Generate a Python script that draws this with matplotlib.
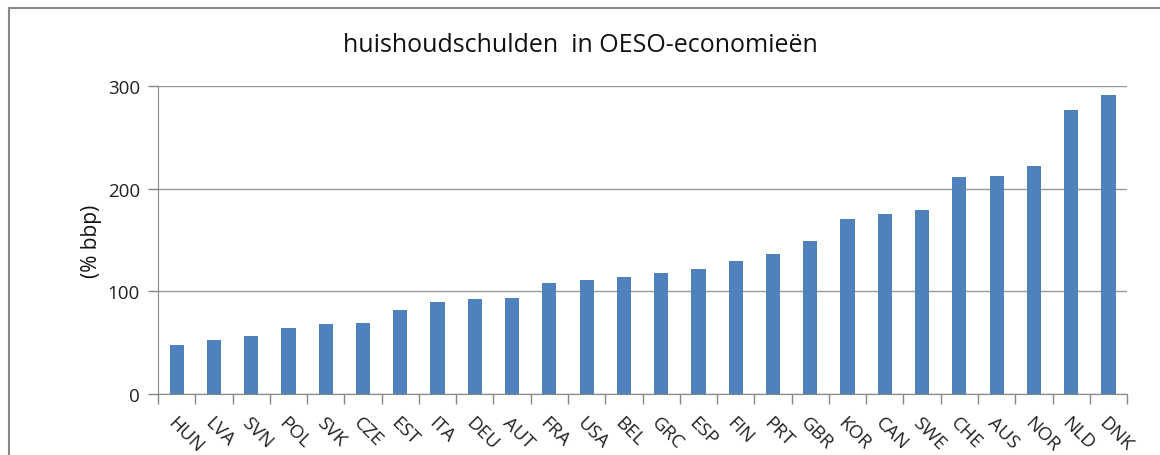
import matplotlib
matplotlib.use('Agg')
import matplotlib.pyplot as plt
from matplotlib.lines import Line2D
import numpy as np

plt.rcParams['font.family'] = ['Open Sans', 'DejaVu Sans']

# data (% bbp)
landen = ['HUN', 'LVA', 'SVN', 'POL', 'SVK', 'CZE', 'EST', 'ITA', 'DEU', 'AUT',
          'FRA', 'USA', 'BEL', 'GRC', 'ESP', 'FIN', 'PRT', 'GBR', 'KOR', 'CAN',
          'SWE', 'CHE', 'AUS', 'NOR', 'NLD', 'DNK']
schuld = [48, 52.5, 56.5, 64, 68, 69.5, 82, 89.5, 92.5, 93.5,
          108, 111, 114, 118, 122, 130, 136.5, 149.5, 170, 175,
          179, 211, 212, 222, 277, 291.5]
yticks = [0, 100, 200, 300]

fig = plt.figure(figsize=(11.6, 4.56), dpi=100)
ax = fig.add_axes([0.1362, 0.1338, 0.8354, 0.6754])

x = np.arange(len(landen))
ax.bar(x, schuld, width=0.38, color='#4F81BD', zorder=3)

ax.set_xlim(-0.5, len(landen) - 0.5)
ax.set_ylim(0, 300)
ax.set_yticks(yticks)
ax.set_yticklabels([str(v) for v in yticks], fontsize=13.5, color='#222222')
ax.grid(axis='y', color='#999999', linewidth=1, zorder=0)

# category ticks sit between bars, labels under the bar centres
ax.set_xticks(np.arange(len(landen) + 1) - 0.5)
ax.set_xticklabels([])
ax.set_xticks(x, minor=True)
ax.set_xticklabels(landen, minor=True, rotation=-45, ha='left', va='top',
                   rotation_mode='anchor', fontsize=13.5, color='#222222')
ax.tick_params(axis='x', which='major', length=7, color='#868686', width=1)
ax.tick_params(axis='x', which='minor', length=0, pad=14)
ax.tick_params(axis='y', length=7, color='#868686', width=1, pad=6)

for s in ['top', 'right']:
    ax.spines[s].set_visible(False)
ax.spines['left'].set_color('#868686')
ax.spines['bottom'].set_color('#868686')

ax.set_ylabel('(% bbp)', fontsize=15, color='#111111', labelpad=4)
fig.text(0.5, 0.90, 'huishoudschulden  in OESO-economieën', ha='center',
         va='center', fontsize=18, color='#111111')

# grey frame round the chart (only top and left visible in the crop)
fig.add_artist(Line2D([0.0078, 1.0], [0.980, 0.980], color='#888888', linewidth=1.5))
fig.add_artist(Line2D([0.0078, 0.0078], [0.0, 0.980], color='#888888', linewidth=1.5))

fig.savefig('out.png', dpi=100)
